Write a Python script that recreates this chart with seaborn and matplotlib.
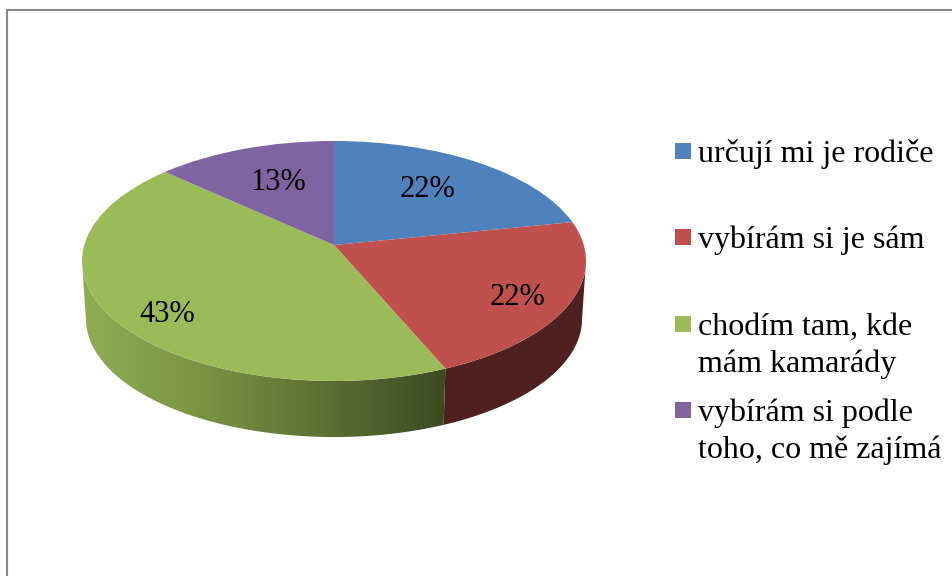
# Imports
import seaborn as sns
import matplotlib.pyplot as plt
import numpy as np
from matplotlib.patches import Polygon, Rectangle
from matplotlib.transforms import Transform

# Data
categories = ['určují mi je rodiče', 'vybírám si je sám',
              'chodím tam, kde\nmám kamarády',
              'vybírám si podle\ntoho, co mě zajímá']
shares = [21.8, 21.8, 43.2, 13.2]
top_colors = ['#4f81bd', '#c0504d', '#9bbb59', '#8064a2']
green_wall_colors = ['#8fad55', '#7a9343', '#5c6f33', '#3d4a22']
red_wall_color = '#4e201e'
# where the percent labels sit on the pie: radius and degrees clockwise from the top
label_radius = [0.67, 0.80, 0.81, 0.65]
label_angle = [36.9, 119.6, 230.0, 338.2]

FONT = 'Liberation Serif'


class TiltTransform(Transform):
    # perspective view of the unit circle, gives the raised apex of a 3D pie
    input_dims = 2
    output_dims = 2
    is_separable = False
    has_inverse = False

    def __init__(self, cx, cy, rx, ry, e):
        super().__init__()
        self.cx, self.cy, self.rx, self.ry, self.e = cx, cy, rx, ry, e

    def transform_non_affine(self, values):
        values = np.asarray(values, dtype=float)
        x, y = values[:, 0], values[:, 1]
        d = 1 + self.e * y
        px = self.cx + self.rx * x * np.sqrt(1 - self.e ** 2) / d
        py = self.cy - self.ry * (y + self.e) / d
        return np.column_stack([px, py])


def wall_polygon(wedge, top, bottom):
    # front facing part of the rim between the top and bottom ellipses
    t = np.radians(np.linspace(wedge.theta1, wedge.theta2, 200))
    pts = np.column_stack([np.cos(t), np.sin(t)])
    pts = pts[pts[:, 1] <= -top.e]
    upper = top.transform(pts)
    lower = bottom.transform(pts)
    return np.vstack([upper, lower[::-1]])


def main():
    sns.set_theme(style='white')
    plt.rcParams['font.family'] = [FONT, 'DejaVu Serif']

    fig = plt.figure(figsize=(9.53, 5.76), dpi=100)
    ax = fig.add_axes([0, 0, 1, 1])

    wedges, _, pct_texts = ax.pie(shares, colors=top_colors, startangle=90,
                                  counterclock=False, autopct='%.0f%%',
                                  wedgeprops={'linewidth': 0, 'zorder': 3},
                                  textprops={'fontsize': 22, 'color': 'black', 'zorder': 4})

    # axes work in image pixels from here on
    ax.set_aspect('auto')
    ax.set_xlim(0, 953)
    ax.set_ylim(576, 0)
    ax.axis('off')

    top = TiltTransform(334, 261, 252, 120, 0.133)
    bottom = TiltTransform(334, 319, 248, 118, 0.133)

    for wedge in wedges:
        wedge.set_transform(top + ax.transData)

    for text, radius, angle in zip(pct_texts, label_radius, label_angle):
        a = np.radians(angle)
        text.set_transform(top + ax.transData)
        text.set_position((radius * np.sin(a), radius * np.cos(a)))
        text.set_verticalalignment('center_baseline')

    # Side walls
    red_wall = wall_polygon(wedges[1], top, bottom)
    ax.add_patch(Polygon(red_wall, closed=True, facecolor=red_wall_color,
                         edgecolor='none', zorder=1))

    green_wall = wall_polygon(wedges[2], top, bottom)
    clip = Polygon(green_wall, closed=True, transform=ax.transData)
    cmap = sns.blend_palette(green_wall_colors, as_cmap=True)
    im = ax.imshow(np.linspace(0, 1, 256).reshape(1, -1), cmap=cmap, aspect='auto',
                   extent=(green_wall[:, 0].min(), green_wall[:, 0].max(),
                           green_wall[:, 1].max(), green_wall[:, 1].min()), zorder=2)
    im.set_clip_path(clip)
    ax.set_xlim(0, 953)
    ax.set_ylim(576, 0)

    # Legend
    for i, (label, color) in enumerate(zip(categories, top_colors)):
        ax.add_patch(Rectangle((675, 143 + i * 86.3), 16, 16, facecolor=color,
                               edgecolor='none', zorder=3))
        for j, line in enumerate(label.split('\n')):
            ax.text(698, 162 + i * 86.3 + j * 37.5, line, fontsize=23, color='black',
                    va='baseline', ha='left', zorder=4)

    # Chart border, only top and left are in the picture
    ax.plot([7.5, 7.5, 953], [576, 10, 10], color='#868686', lw=1.5, zorder=5)

    fig.savefig('out.png', dpi=100)
    plt.close(fig)


if __name__ == "__main__":
    main()
